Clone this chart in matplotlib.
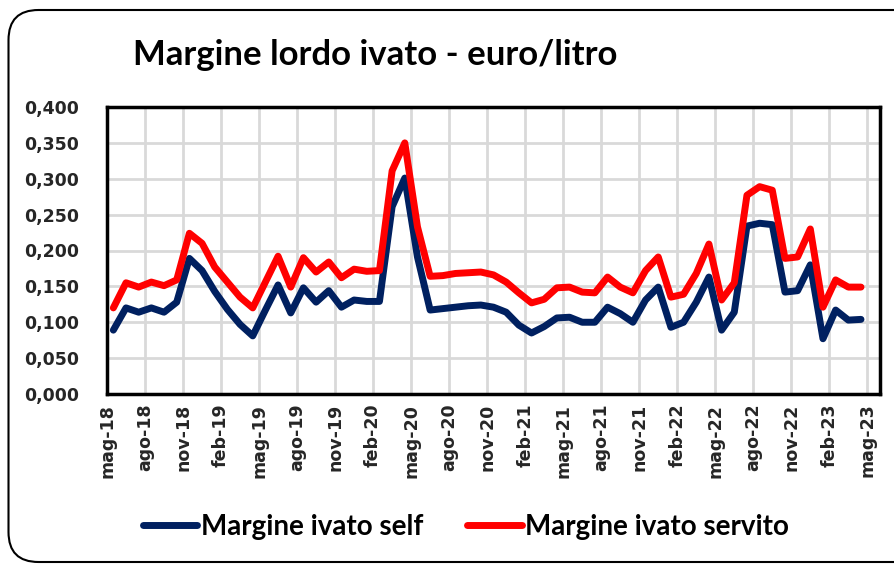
import matplotlib.pyplot as plt
from matplotlib.patches import FancyBboxPatch
import numpy as np

# monthly values, mag-18 .. apr-23
self_margin = [0.089, 0.120, 0.114, 0.120, 0.114, 0.128, 0.189, 0.172, 0.143, 0.118,
               0.097, 0.081, 0.117, 0.152, 0.113, 0.148, 0.128, 0.144, 0.121, 0.131,
               0.129, 0.129, 0.261, 0.301, 0.191, 0.117, 0.119, 0.121, 0.123, 0.124,
               0.121, 0.114, 0.096, 0.085, 0.094, 0.106, 0.107, 0.100, 0.100, 0.121,
               0.112, 0.100, 0.131, 0.149, 0.093, 0.100, 0.128, 0.163, 0.089, 0.114,
               0.234, 0.238, 0.236, 0.142, 0.144, 0.180, 0.077, 0.117, 0.103, 0.104]
servito_margin = [0.120, 0.155, 0.149, 0.156, 0.151, 0.159, 0.224, 0.210, 0.177, 0.156,
                  0.135, 0.120, 0.156, 0.192, 0.149, 0.190, 0.170, 0.184, 0.162, 0.174,
                  0.171, 0.172, 0.311, 0.350, 0.233, 0.164, 0.165, 0.168, 0.169, 0.170,
                  0.166, 0.156, 0.141, 0.127, 0.132, 0.148, 0.149, 0.142, 0.141, 0.163,
                  0.149, 0.141, 0.172, 0.191, 0.135, 0.139, 0.168, 0.209, 0.131, 0.155,
                  0.277, 0.289, 0.284, 0.189, 0.191, 0.230, 0.121, 0.159, 0.149, 0.149]
tick_labels = ["mag-18", "ago-18", "nov-18", "feb-19", "mag-19", "ago-19", "nov-19",
               "feb-20", "mag-20", "ago-20", "nov-20", "feb-21", "mag-21", "ago-21",
               "nov-21", "feb-22", "mag-22", "ago-22", "nov-22", "feb-23", "mag-23"]
y_ticks = [0.0, 0.05, 0.10, 0.15, 0.20, 0.25, 0.30, 0.35, 0.40]

narrow = ["Lato", "DejaVu Sans"]

fig = plt.figure(figsize=(8.94, 5.65), dpi=100)
ax = fig.add_axes([107 / 894, 1 - 394 / 565, 773 / 894, 287 / 565])

# rounded frame around the chart (right side runs off the picture)
frame = FancyBboxPatch((0.085, 0.03), 9.2, 5.52, boxstyle="round,pad=0,rounding_size=0.3",
                       transform=fig.dpi_scale_trans, fill=False, lw=1.5, ec="black")
fig.patches.append(frame)

x = np.arange(len(self_margin)) + 0.5
ax.plot(x, self_margin, color="#002060", lw=5, solid_joinstyle="round",
        solid_capstyle="round", label="Margine ivato self", zorder=3)
ax.plot(x, servito_margin, color="#ff0000", lw=5, solid_joinstyle="round",
        solid_capstyle="round", label="Margine ivato servito", zorder=3)

ax.set_xlim(0, 61)
ax.set_ylim(0, 0.4)
ax.set_xticks(np.arange(0, 61, 3))
ax.set_xticklabels(tick_labels, rotation=90, fontsize=12.5, fontweight="bold", color="#262626")
ax.set_yticks(y_ticks)
ax.set_yticklabels([f"{v:.3f}".replace(".", ",") for v in y_ticks],
                   fontsize=12.5, fontweight="bold", color="#262626")
ax.tick_params(axis="both", length=0)
ax.tick_params(axis="y", pad=20)
ax.tick_params(axis="x", pad=7)

ax.grid(True, color="#d9d9d9", lw=2)
ax.set_axisbelow(True)
for s in ax.spines.values():
    s.set_linewidth(2.5)
    s.set_color("black")

fig.text(133 / 894, 1 - 55 / 565, "Margine lordo ivato - euro/litro", fontsize=25,
         fontweight="bold", family=narrow, va="center", ha="left")

leg = fig.legend(loc="center", bbox_to_anchor=(466 / 894, 1 - 527 / 565), ncol=2,
                 frameon=False, prop={"family": narrow, "size": 20, "weight": "bold"},
                 handlelength=1.95, handletextpad=0.12, columnspacing=1.6)

fig.savefig("out.png", dpi=100)
